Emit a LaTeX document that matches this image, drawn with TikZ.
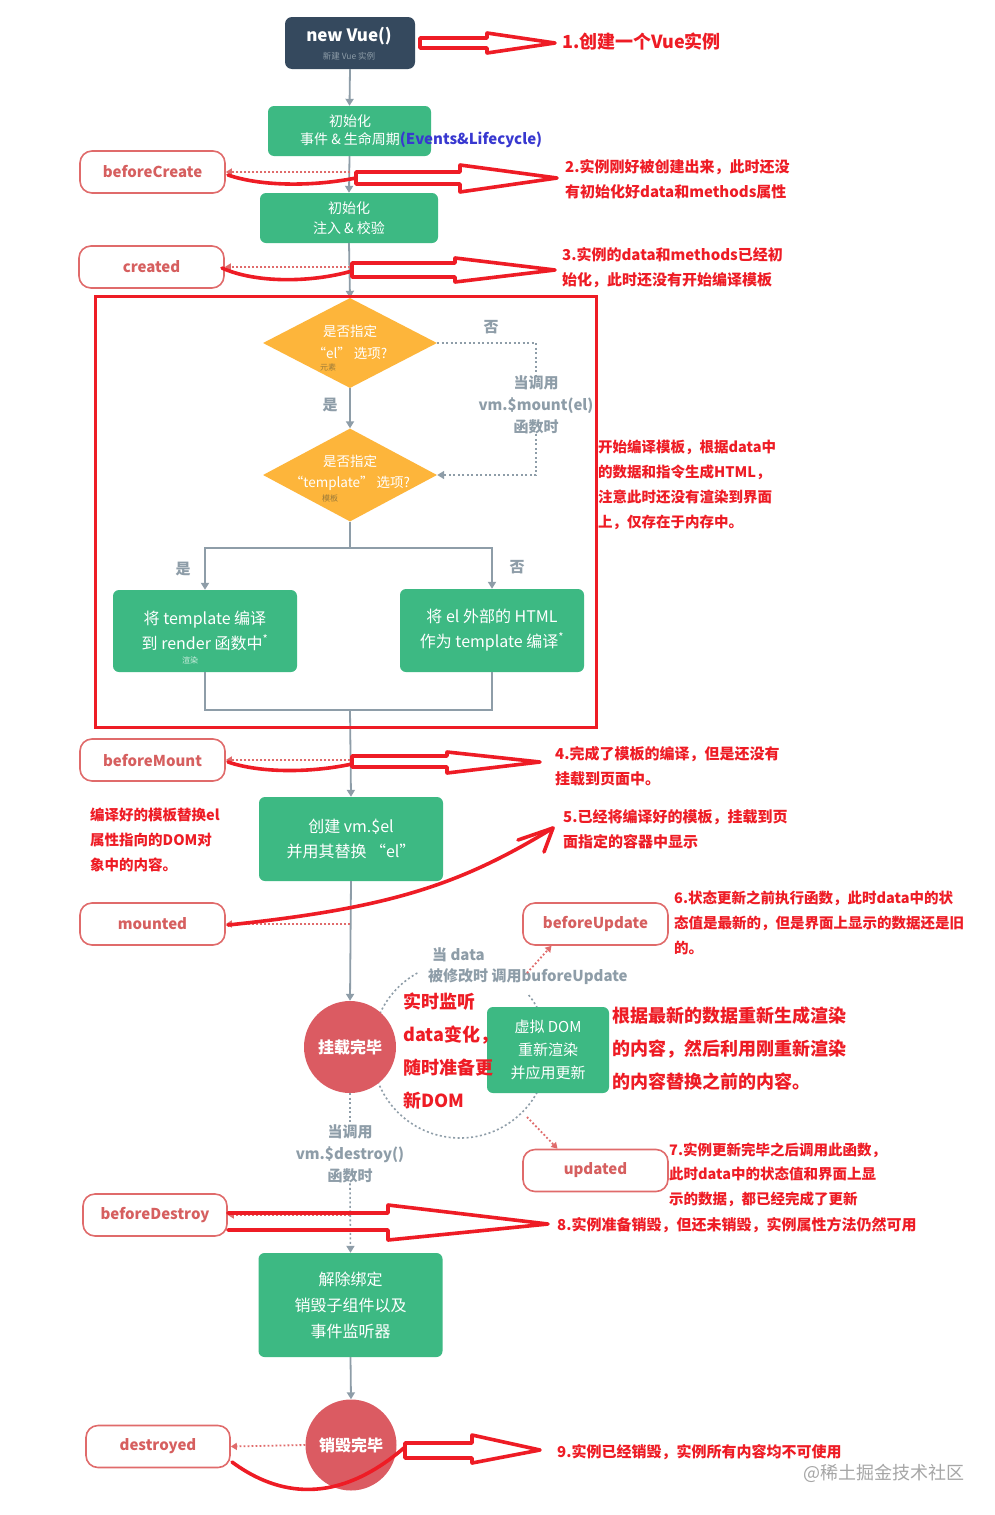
\documentclass[tikz,border=0pt]{standalone}
\usepackage{fontspec}
\setmainfont{Noto Sans CJK SC}
\usetikzlibrary{arrows.meta,shapes.geometric}
\definecolor{vuedark}{HTML}{35495E}
\definecolor{vgreen}{HTML}{3DB983}
\definecolor{vorange}{HTML}{FDB53B}
\definecolor{hookline}{HTML}{E06B6B}
\definecolor{hooktext}{HTML}{D65F5F}
\definecolor{circred}{HTML}{DB5B62}
\definecolor{lgray}{HTML}{8E9DA8}
\definecolor{annred}{HTML}{EE1C25}
\definecolor{annblue}{HTML}{3838D0}
\definecolor{smallbrown}{HTML}{9A7A3A}
\newcommand\fsz[2]{\fontsize{#1}{#2}\selectfont}
\begin{document}
\begin{tikzpicture}[x=1pt,y=-1pt,
  flow/.style={draw=lgray,line width=1.8pt},
  flowtip/.style={flow,-{Triangle[length=7pt,width=8pt]}},
  hookarr/.style={draw=hookline,line width=1.8pt,dash pattern=on 1.8pt off 2.2pt,-{Triangle[length=6pt,width=7pt]}},
  dashg/.style={draw=lgray,line width=1.6pt,dash pattern=on 2pt off 2.5pt},
  gbox/.style={rectangle,rounded corners=6pt,fill=vgreen,text=white,align=center,inner sep=0pt},
  hook/.style={rectangle,rounded corners=12pt,draw=hookline,line width=1.6pt,fill=white,text=hooktext,font=\bfseries\fsz{15}{17},minimum width=145pt,minimum height=42pt,inner sep=0pt},
  ann/.style={text=annred,font=\bfseries\fsz{15}{25},align=left,anchor=west,inner sep=0pt},
  glab/.style={text=lgray,font=\bfseries\fsz{15}{22},align=center,inner sep=0pt},
  dtxt/.style={text=white,font=\fsz{13.5}{16},inner sep=0pt},
  pen/.style={draw=annred,line width=3.6pt,line join=round,line cap=round},
]
\useasboundingbox[fill=white] (0,0) rectangle (995,1515);

% dashed update cycle arc (under nodes)
\draw[dashg] (460,1050) ++(-119:88) arc[start angle=-119,end angle=-400,radius=88];

% ---- main flow nodes
\node[rectangle,rounded corners=7pt,fill=vuedark,minimum width=130pt,minimum height=52pt] (vue) at (350,43) {};
\node[text=white,font=\bfseries\fsz{17}{20},inner sep=0pt] (vuet) at (349,36) {new Vue()};
\node[text=lgray,font=\fsz{8.5}{10},inner sep=0pt] (vues) at (349,56) {新建 Vue 实例};

\node[gbox,minimum width=163pt,minimum height=50pt] (init1) at (349.5,131) {};
\node[text=white,font=\fsz{14}{16},inner sep=0pt] (init1a) at (350,121) {初始化};
\node[text=white,font=\fsz{14}{16},inner sep=0pt,anchor=west] (init1b) at (300,140) {事件 \& 生命周期\textcolor{annblue}{\bfseries\fsz{15}{16}(Events\&Lifecycle)}};

\node[gbox,minimum width=178pt,minimum height=50pt,font=\fsz{14}{20}] (init2) at (349,218) {初始化\\注入 \& 校验};

\node[hook] (bc) at (152.5,172) {beforeCreate};
\node[hook] (cr) at (151.5,267) {created};

\node[diamond,fill=vorange,minimum width=174pt,minimum height=90pt,inner sep=0pt] (d1) at (350,343) {};
\node[dtxt] (d1a) at (350,331) {是否指定};
\node[dtxt] (d1b) at (350,353) {“el” 选项?};
\node[text=smallbrown,font=\fsz{8}{9},inner sep=0pt] (d1c) at (328,367) {元素};

\node[diamond,fill=vorange,minimum width=174pt,minimum height=93pt,inner sep=0pt] (d2) at (350,475) {};
\node[dtxt] (d2a) at (350,461) {是否指定};
\node[dtxt] (d2b) at (350,483) {“template” 选项?};
\node[text=smallbrown,font=\fsz{8}{9},inner sep=0pt] (d2c) at (330,498) {模板};

\node[glab] (no1) at (491,327) {否};
\node[glab] (yes1) at (330,405) {是};
\node[glab,fill=white] (mtext) at (536,405) {当调用\\vm.\$mount(el)\\函数时};
\node[glab] (yes2) at (183,569) {是};
\node[glab] (no2) at (517,567) {否};

\node[gbox,minimum width=184pt,minimum height=82pt,font=\fsz{16}{25}] (lb) at (205,631) {将 template 编译\\到 render 函数中\textsuperscript{*}};
\node[text=white,opacity=0.75,font=\fsz{8}{9},inner sep=0pt] (lbs) at (190,660) {渲染};
\node[gbox,minimum width=184pt,minimum height=83pt,font=\fsz{16}{25}] (rb) at (492,630.5) {将 el 外部的 HTML\\作为 template 编译\textsuperscript{*}};

\node[hook] (bm) at (152.5,760) {beforeMount};
\node[gbox,minimum width=184pt,minimum height=84pt,font=\fsz{16}{25}] (mk) at (351,839) {创建 vm.\$el\\并用其替换 “el”};
\node[hook] (mt) at (152.5,924) {mounted};

\node[circle,fill=circred,minimum size=92pt,inner sep=0pt,text=white,font=\bfseries\fsz{16}{18}] (c1) at (350,1047) {挂载完毕};
\node[gbox,minimum width=122pt,minimum height=86pt,font=\fsz{15}{23}] (vdom) at (548,1050) {虚拟 DOM\\重新渲染\\并应用更新};
\node[hook] (bu) at (595.5,924) {beforeUpdate};
\node[hook] (up) at (595.5,1170.5) {updated};
\node[glab,anchor=west] (dch1) at (432,955) {当 data};
\node[glab,anchor=west] (dch2) at (428,977) {被修改时 调用buforeUpdate};

\node[glab,fill=white] (dtext) at (350,1154) {当调用\\vm.\$destroy()\\函数时};
\node[hook,minimum width=144pt] (bd) at (155,1215) {beforeDestroy};
\node[gbox,minimum width=184pt,minimum height=104pt,font=\fsz{16}{26}] (db) at (350.5,1305) {解除绑定\\销毁子组件以及\\事件监听器};
\node[circle,fill=circred,minimum size=91pt,inner sep=0pt,text=white,font=\bfseries\fsz{16}{18}] (c2) at (351,1445) {销毁完毕};
\node[hook,minimum width=144pt] (ds) at (158,1446.5) {destroyed};

% ---- coordinates
\coordinate (split) at (350,548);
\coordinate (join) at (350,710);
\coordinate (bcsrc) at (350,172);
\coordinate (crsrc) at (350,267);
\coordinate (bmsrc) at (350,760);
\coordinate (mtsrc) at (350,924);
\coordinate (bdsrc) at (350,1215);
\coordinate (busrc) at (527,973);
\coordinate (upsrc) at (527,1117);

% ---- flow connectors
\draw[flowtip] (vue.south) -- (init1.north);
\draw[flowtip] (init1.south) -- (init2.north);
\draw[flowtip] (init2.south) -- (d1.north);
\draw[flowtip] (d1.south) -- (d2.north);
\draw[dashg] (d1.east) -| (mtext.north);
\draw[dashg,-{Triangle[length=7pt,width=8pt]}] (mtext.south) |- (d2.east);
\draw[flow] (d2.south) -- (split);
\draw[flowtip] (split) -| (lb.north);
\draw[flowtip] (split) -| (rb.north);
\draw[flow] (lb.south) |- (join) -| (rb.south);
\draw[flowtip] (join) -- (mk.north);
\draw[flowtip] (mk.south) -- (c1.north);
\draw[dashg] (c1.south) -- (dtext.north);
\draw[dashg,-{Triangle[length=7pt,width=8pt]}] (dtext.south) -- (db.north);
\draw[flowtip] (db.south) -- (c2.north);

% ---- hook arrows
\draw[hookarr] (bcsrc) -- (bc.east);
\draw[hookarr] (crsrc) -- (cr.east);
\draw[hookarr] (bmsrc) -- (bm.east);
\draw[hookarr] (mtsrc) -- (mt.east);
\draw[hookarr] (bdsrc) -- (bd.east);
\draw[hookarr] (c2.west) -- (ds.east);
\draw[hookarr] (busrc) -- ([xshift=-44pt]bu.south);
\draw[hookarr] (upsrc) -- ([xshift=-38pt]up.north);

% ---- red compile frame
\draw[draw=annred,line width=3pt] (95,296) rectangle (596,727);

% ---- red annotations
\draw[pen] (420,38) -- (487,38) -- (487,33) -- (555,43) -- (487,53) -- (487,48) -- (420,48) -- cycle;
\node[ann,font=\bfseries\fsz{18}{20}] (a1) at (562,42) {1.创建一个Vue实例};

\draw[pen] (228,175) .. controls (260,186) and (310,187) .. (356,178);
\draw[pen] (356,172) -- (460,172) -- (460,165) -- (557,178) -- (460,192) -- (460,184) -- (356,184) -- cycle;
\node[ann] (a2) at (565,179.5) {2.实例刚好被创建出来，此时还没\\有初始化好data和methods属性};

\draw[pen] (222,268) .. controls (255,283) and (310,283) .. (352,271);
\draw[pen] (352,263) -- (455,263) -- (455,258) -- (555,270) -- (455,282) -- (455,277) -- (352,277) -- cycle;
\node[ann] (a3) at (562,267.5) {3.实例的data和methods已经初\\始化，此时还没有开始编译模板};

\node[ann,font=\bfseries\fsz{14.5}{25}] (acomp) at (598,484.5) {开始编译模板，根据data中\\的数据和指令生成HTML，\\注意此时还没有渲染到界面\\上，仅存在于内存中。};

\draw[pen] (228,762) .. controls (260,773) and (310,773) .. (352,764);
\draw[pen] (352,756) -- (447,756) -- (447,752) -- (540,762) -- (447,773) -- (447,767) -- (352,767) -- cycle;
\node[ann] (a4) at (555,766.5) {4.完成了模板的编译，但是还没有\\挂载到页面中。};

\node[ann,font=\bfseries\fsz{14.5}{25}] (aleft) at (90,840) {编译好的模板替换el\\属性指向的DOM对\\象中的内容。};

\draw[pen] (228,925) .. controls (390,908) and (460,885) .. (553,828);
\draw[pen] (518,840) -- (553,828) -- (544,852);
\node[ann] (a5) at (563,829.5) {5.已经将编译好的模板，挂载到页\\面指定的容器中显示};

\node[ann,font=\bfseries\fsz{14.5}{25}] (a6) at (674,923) {6.状态更新之前执行函数，此时data中的状\\态值是最新的，但是界面上显示的数据还是旧\\的。};

\node[ann,font=\bfseries\fsz{18}{33}] (aleft2) at (403,1050.5) {实时监听\\data变化，\\随时准备更\\新DOM};
\node[ann,font=\bfseries\fsz{18}{33}] (aright2) at (612,1049) {根据最新的数据重新生成渲染\\的内容，然后利用刚重新渲染\\的内容替换之前的内容。};

\node[ann,font=\bfseries\fsz{14.5}{24.5}] (a7) at (669,1174.5) {7.实例更新完毕之后调用此函数，\\此时data中的状态值和界面上显\\示的数据，都已经完成了更新};

\draw[pen] (228,1213) -- (388,1213) -- (388,1205) -- (548,1224) -- (388,1240) -- (388,1230) -- (228,1230);
\node[ann] (a8) at (557,1225) {8.实例准备销毁，但还未销毁，实例属性方法仍然可用};

\draw[pen] (232,1462) .. controls (270,1490) and (330,1512) .. (405,1447);
\draw[pen] (405,1443) -- (472,1443) -- (472,1435) -- (540,1450) -- (472,1463) -- (472,1458) -- (405,1458) -- cycle;
\node[ann] (a9) at (557,1452) {9.实例已经销毁，实例所有内容均不可使用};

\node[text=black!35,font=\fsz{18}{20},anchor=west,inner sep=0pt] (wm) at (803,1473) {@稀土掘金技术社区};
\end{tikzpicture}
\end{document}
